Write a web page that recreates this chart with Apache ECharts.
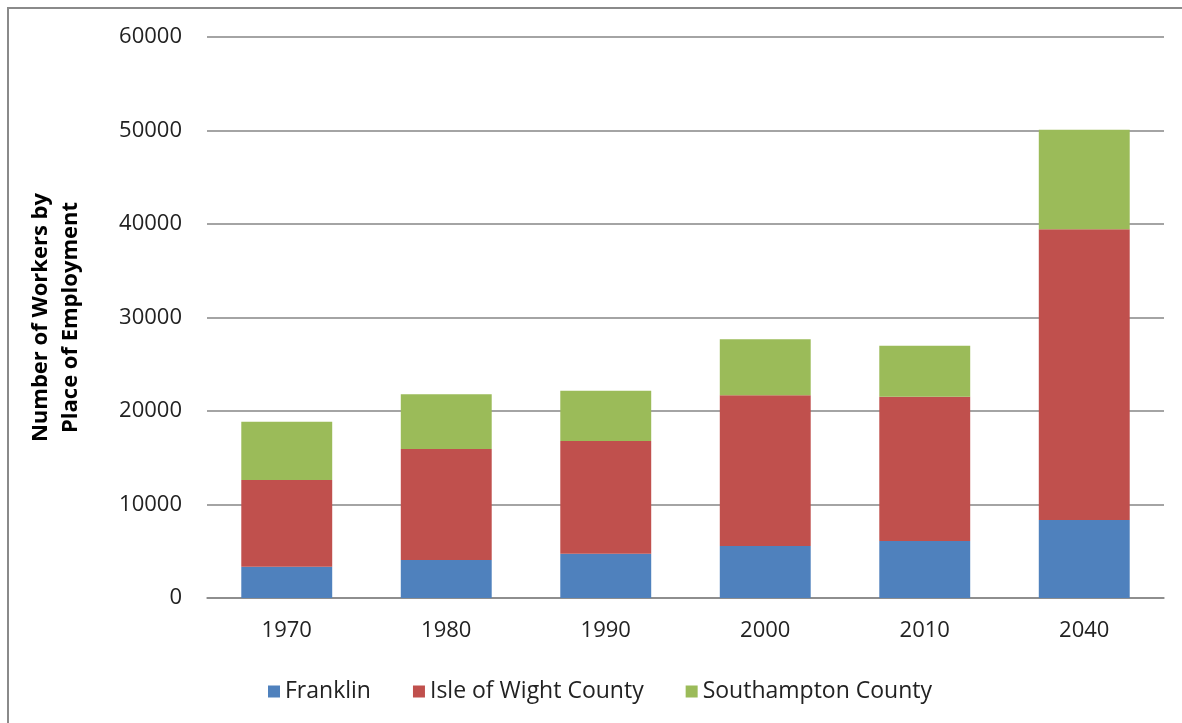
<!DOCTYPE html>
<html>
<head>
<meta charset="utf-8">
<script src="https://cdn.jsdelivr.net/npm/echarts@6/dist/echarts.min.js"></script>
<style>
  html, body { margin: 0; padding: 0; background: #fff; }
  #chart { width: 1182px; height: 723px; }
</style>
</head>
<body>
<div id="chart"></div>
<script>
// years on the x axis
const years = ['1970', '1980', '1990', '2000', '2010', '2040']
// workers by place of employment
const franklin = [3350, 4060, 4740, 5560, 6100, 8340]
const isleOfWight = [9270, 11880, 12050, 16120, 15430, 31090]
const southampton = [6240, 5850, 5380, 5990, 5460, 10660]

const FONT = '"Open Sans", Lato, sans-serif'

const chart = echarts.init(document.getElementById('chart'))

const barSeries = (name, data, color) => ({
  name,
  type: 'bar',
  stack: 'total',
  data,
  barWidth: '57%',
  itemStyle: { color },
  emphasis: { disabled: true },
})

chart.setOption({
  backgroundColor: '#fff',
  animation: false,
  // outer frame of the chart area
  graphic: [{
    type: 'rect',
    shape: { x: 8, y: 8, width: 1300, height: 900 },
    style: { fill: 'none', stroke: '#8a8a8a', lineWidth: 2 },
    silent: true,
  }],
  legend: {
    data: ['Franklin', 'Isle of Wight County', 'Southampton County'],
    left: 263,
    top: 675,
    icon: 'rect',
    itemWidth: 12,
    itemHeight: 12,
    itemGap: 42,
    textStyle: { fontFamily: FONT, fontSize: 23, color: '#222' },
  },
  grid: { left: 207, right: 18, top: 37, bottom: 125 },
  xAxis: {
    type: 'category',
    data: years,
    axisLine: { show: true, lineStyle: { color: '#868686', width: 1.5 } },
    axisTick: { show: false },
    axisLabel: { fontFamily: FONT, fontSize: 22, color: '#222', margin: 22 },
  },
  yAxis: {
    type: 'value',
    min: 0,
    max: 60000,
    interval: 10000,
    name: 'Number of Workers by\nPlace of Employment',
    nameLocation: 'middle',
    nameGap: 121,
    nameTextStyle: { fontFamily: FONT, fontSize: 22, fontWeight: 'bold', color: '#000', lineHeight: 30 },
    axisLine: { show: false },
    axisTick: { show: false },
    axisLabel: {
      fontFamily: FONT, fontSize: 22, color: '#222', margin: 25,
      formatter: v => String(v),
    },
    splitLine: { lineStyle: { color: '#868686', width: 1.5 } },
  },
  series: [
    barSeries('Franklin', franklin, '#4F81BD'),
    barSeries('Isle of Wight County', isleOfWight, '#C0504D'),
    barSeries('Southampton County', southampton, '#9BBB59'),
  ],
})
</script>
</body>
</html>
